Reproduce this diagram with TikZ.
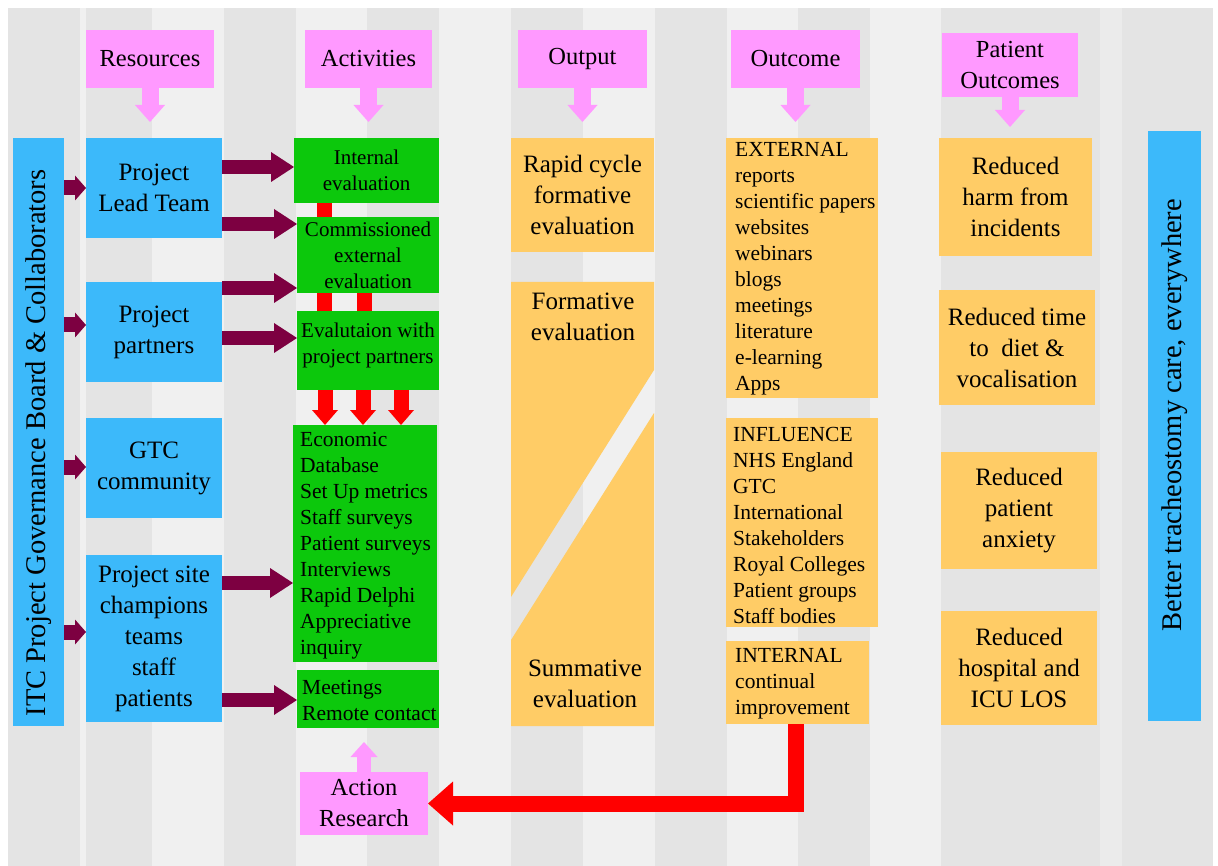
\documentclass[tikz,border=0pt]{standalone}
\usepackage{fontspec}
\setmainfont{Liberation Serif}
\usetikzlibrary{arrows.meta}
\definecolor{stripeA}{RGB}{228,228,228}
\definecolor{stripeB}{RGB}{240,240,240}
\definecolor{stripeC}{RGB}{235,235,235}
\definecolor{skyblue}{RGB}{60,185,250}
\definecolor{grn}{RGB}{12,200,12}
\definecolor{org}{RGB}{255,204,102}
\definecolor{pnk}{RGB}{255,153,255}
\definecolor{maroon}{RGB}{125,0,65}
\definecolor{rd}{RGB}{255,0,0}
\begin{document}
\begin{tikzpicture}[x=1pt,y=-1pt,
  wh/.style 2 args={minimum width=#1pt, minimum height=#2pt},
  box/.style={anchor=north west, inner sep=0pt, outer sep=0pt, text=black},
  headbox/.style={box, fill=pnk, align=center, font=\fontsize{24.5}{31}\selectfont},
  bluebox/.style={box, fill=skyblue, align=center, font=\fontsize{25}{31}\selectfont},
  greenbox/.style={box, fill=grn, align=center, font=\fontsize{21}{26}\selectfont},
  orgbox/.style={box, fill=org, align=center, font=\fontsize{25}{31}\selectfont},
  listtext/.style={anchor=west, inner sep=0pt, align=left, text=black, font=\fontsize{21.5}{26}\selectfont},
  vtext/.style={rotate=90, inner sep=0pt, text=black, font=\fontsize{28.5}{34}\selectfont},
  bigarr/.style={draw=maroon, line width=14pt, -{Triangle[width=30pt,length=23pt,line width=0pt]}},
  smallarr/.style={draw=maroon, line width=15pt, -{Triangle[width=25pt,length=11pt,line width=0pt]}},
  pinkarr/.style={draw=pnk, line width=17pt, -{Triangle[width=30pt,length=17pt,line width=0pt]}},
  pinkarrsm/.style={draw=pnk, line width=14pt, -{Triangle[width=27pt,length=15pt,line width=0pt]}},
  redarr/.style={draw=rd, line width=15pt, -{Triangle[width=26pt,length=15pt,line width=0pt]}},
  redbar/.style={draw=rd, line width=15pt},
  redL/.style={draw=rd, line width=16pt, line join=miter, -{Triangle[width=44pt,length=25pt,line width=0pt]}}
]
\useasboundingbox (0,0) rectangle (1218,866);
\fill[white] (0,0) rectangle (1218,866);
% background stripes
\fill[stripeA] (8,8) rectangle (80,866);
\fill[stripeB] (80,8) rectangle (86,866);
\fill[stripeA] (86,8) rectangle (152,866);
\fill[stripeB] (152,8) rectangle (224,866);
\fill[stripeA] (224,8) rectangle (296,866);
\fill[stripeB] (296,8) rectangle (367,866);
\fill[stripeA] (367,8) rectangle (439,866);
\fill[stripeB] (439,8) rectangle (511,866);
\fill[stripeA] (511,8) rectangle (583,866);
\fill[stripeB] (583,8) rectangle (655,866);
\fill[stripeA] (655,8) rectangle (727,866);
\fill[stripeB] (727,8) rectangle (798,866);
\fill[stripeA] (798,8) rectangle (870,866);
\fill[stripeB] (870,8) rectangle (941,866);
\fill[stripeA] (941,8) rectangle (1100,866);
\fill[stripeC] (1100,8) rectangle (1122,866);
\fill[stripeA] (1122,8) rectangle (1213,866);

% header boxes
\node[headbox, wh={128}{58}] (res) at (86,30) {Resources};
\node[headbox, wh={127}{58}] (act) at (305,30) {Activities};
\node[headbox, wh={129}{58}] (outp) at (518,30) {Output};
\node[headbox, wh={129}{58}] (outc) at (731,30) {Outcome};
\node[headbox, wh={136}{64}] (pout) at (942,33) {Patient\\Outcomes};

% side bars
\node[box, fill=skyblue, wh={51}{588}] (itc) at (13,138) {};
\node[vtext] (itct) at (39,443) {ITC Project Governance Board \& Collaborators};
\node[box, fill=skyblue, wh={53}{590}] (btr) at (1148,131) {};
\node[vtext] (btrt) at (1175,415) {Better tracheostomy care, everywhere};

% resources
\node[bluebox, wh={136}{100}] (plt) at (86,138) {Project\\Lead Team};
\node[bluebox, wh={136}{100}] (pp) at (86,282) {Project\\partners};
\node[bluebox, wh={136}{100}] (gtc) at (86,418) {GTC\\community};
\node[bluebox, wh={136}{167}] (ps) at (86,555) {Project site\\champions\\teams\\staff\\patients};

% activities
\node[greenbox, wh={145}{65}] (ie) at (294,138) {Internal\\evaluation};
\node[greenbox, wh={142}{76}] (ce) at (297,217) {Commissioned\\external\\evaluation};
\node[box, fill=grn, wh={142}{79}] (ep) at (297,311) {};
\node[text=black, align=center, inner sep=0pt, font=\fontsize{21}{26}\selectfont] (ept) at (368,345) {Evalutaion with\\project partners};
\node[box, fill=grn, wh={144}{237}] (eco) at (293,425) {};
\node[listtext] (ecot) at (300,546) {Economic\\Database\\Set Up metrics\\Staff surveys\\Patient surveys\\Interviews\\Rapid Delphi\\Appreciative\\inquiry};
\node[box, fill=grn, wh={142}{58}] (mt) at (297,670) {};
\node[listtext] (mtt) at (302,700) {Meetings\\Remote contact};
\node[headbox, wh={128}{63}] (ar) at (300,772) {Action\\Research};

% output
\node[orgbox, wh={143}{114}] (rc) at (511,138) {Rapid cycle\\formative\\evaluation};
\fill[org] (511,282) -- (654,282) -- (654,370) -- (511,597) -- cycle;
\fill[org] (511,640) -- (654,413) -- (654,726) -- (511,726) -- cycle;
\node[text=black, align=center, inner sep=0pt, font=\fontsize{25}{31}\selectfont] (fe) at (583,317) {Formative\\evaluation};
\node[text=black, align=center, inner sep=0pt, font=\fontsize{25}{31}\selectfont] (se) at (585,684) {Summative\\evaluation};

% outcome
\node[box, fill=org, wh={152}{260}] (ext) at (726,138) {};
\node[listtext] (extt) at (735,269) {EXTERNAL\\reports\\scientific papers\\websites\\webinars\\blogs\\meetings\\literature\\e-learning\\Apps};
\node[box, fill=org, wh={152}{209}] (inf) at (726,418) {};
\node[listtext] (inft) at (733,525) {INFLUENCE\\NHS England\\GTC\\International\\Stakeholders\\Royal Colleges\\Patient groups\\Staff bodies};
\node[box, fill=org, wh={143}{83}] (intl) at (726,641) {};
\node[listtext] (intt) at (735,684) {INTERNAL\\continual\\improvement};

% patient outcomes
\node[orgbox, wh={153}{118}] (rh) at (939,138) {Reduced\\harm from\\incidents};
\node[orgbox, wh={156}{115}] (rt) at (939,290) {Reduced time\\to\ \ diet \&\\vocalisation};
\node[orgbox, wh={156}{117}] (ra) at (941,452) {Reduced\\patient\\anxiety};
\node[orgbox, wh={156}{114}] (rho) at (941,611) {Reduced\\hospital and\\ICU LOS};

% header arrows
\draw[pinkarr] (res.south) -- ++(0,34);
\draw[pinkarr] (act.south) -- ++(0,34);
\draw[pinkarr] (outp.south) -- ++(0,34);
\draw[pinkarr] (outc.south) -- ++(0,34);
\draw[pinkarr] (pout.south) -- ++(0,30);

% governance arrows
\draw[smallarr] (itc.east |- 0,188) -- (plt.west |- 0,188);
\draw[smallarr] (itc.east |- 0,325) -- (pp.west |- 0,325);
\draw[smallarr] (itc.east |- 0,467) -- (gtc.west |- 0,467);
\draw[smallarr] (itc.east |- 0,632) -- (ps.west |- 0,632);

% resources to activities
\draw[bigarr] (plt.east |- 0,167) -- (ie.west |- 0,167);
\draw[bigarr] (plt.east |- 0,224) -- (ce.west |- 0,224);
\draw[bigarr] (pp.east |- 0,288) -- (ce.west |- 0,288);
\draw[bigarr] (pp.east |- 0,338) -- (ep.west |- 0,338);
\draw[bigarr] (ps.east |- 0,583) -- (eco.west |- 0,583);
\draw[bigarr] (ps.east |- 0,700) -- (mt.west |- 0,700);

% red links within activities
\draw[redbar] (ie.south -| 324.5,0) -- (ce.north -| 324.5,0);
\draw[redbar] (ce.south -| 324.5,0) -- (ep.north -| 324.5,0);
\draw[redbar] (ce.south -| 364,0) -- (ep.north -| 364,0);
\draw[redarr] (ep.south -| 325,0) -- (eco.north -| 325,0);
\draw[redarr] (ep.south -| 363,0) -- (eco.north -| 363,0);
\draw[redarr] (ep.south -| 401,0) -- (eco.north -| 401,0);

% action research
\draw[pinkarrsm] (ar.north) -- ++(0,-30);
\draw[redL] (intl.south -| 796,0) |- (ar.east);
\end{tikzpicture}
\end{document}
